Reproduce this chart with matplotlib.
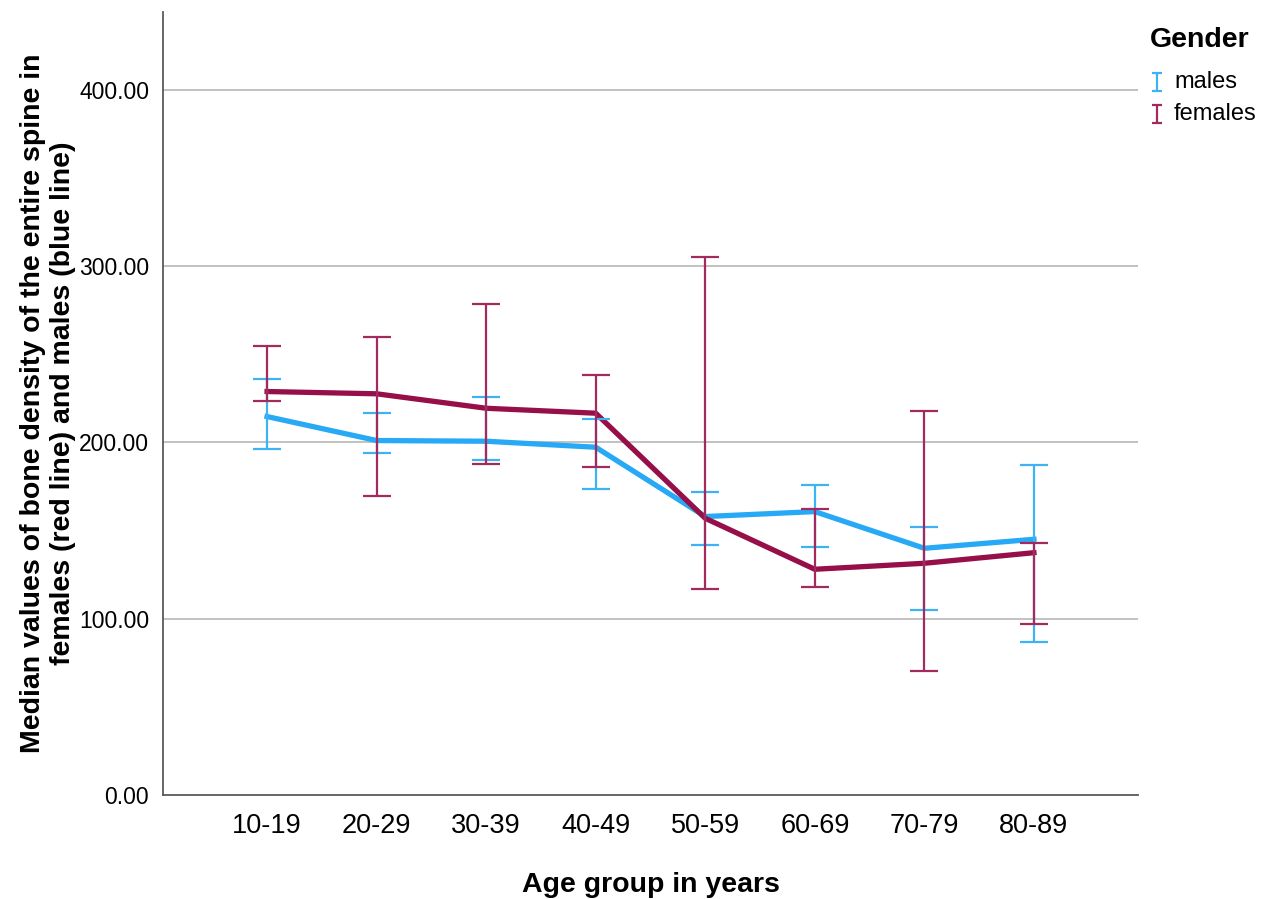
import matplotlib
matplotlib.use('Agg')
import matplotlib.pyplot as plt
from matplotlib.lines import Line2D
from matplotlib.path import Path
import numpy as np

age_groups = ["10-19", "20-29", "30-39", "40-49", "50-59", "60-69", "70-79", "80-89"]

# median and interval bounds per age group
males_med = [214.6, 201.0, 200.6, 197.2, 157.9, 160.7, 139.9, 145.0]
males_lo = [196.4, 193.8, 190.0, 173.4, 141.8, 140.8, 104.9, 87.0]
males_hi = [236.1, 216.7, 225.9, 213.3, 171.7, 175.8, 151.8, 187.2]

females_med = [228.8, 227.5, 219.3, 216.5, 156.9, 128.0, 131.4, 137.4]
females_lo = [223.5, 169.4, 187.6, 186.2, 116.8, 117.8, 70.3, 96.8]
females_hi = [254.7, 259.6, 278.5, 237.9, 305.3, 162.0, 217.8, 142.8]

c_male = "#27A9F5"
c_male_err = "#3DB3F3"
c_female = "#970F48"
c_female_err = "#A22A5D"

FONT = "Liberation Sans"
W, H = 1266, 899

fig = plt.figure(figsize=(W / 100, H / 100), dpi=100)
ax = fig.add_axes([163 / W, 1 - 795 / H, (1138 - 163) / W, (795 - 12) / H])

x = np.arange(len(age_groups))

for med, lo, hi, col, ecol in [(males_med, males_lo, males_hi, c_male, c_male_err),
                               (females_med, females_lo, females_hi, c_female, c_female_err)]:
    med = np.array(med)
    yerr = [med - np.array(lo), np.array(hi) - med]
    ax.plot(x, med, color=col, lw=3.8, zorder=3)
    ax.errorbar(x, med, yerr=yerr, fmt="none", ecolor=ecol, elinewidth=1.6,
                capsize=10, capthick=1.6, zorder=4)

ax.set_xlim(-0.95, 7.95)
ax.set_ylim(0, 444)
yt = [0, 100, 200, 300, 400]
ax.set_yticks(yt)
ax.set_yticklabels([f"{v:.2f}" for v in yt], fontsize=16.5, family=FONT)
ax.set_xticks(x)
ax.set_xticklabels(age_groups, fontsize=19.5, family=FONT)
ax.tick_params(axis="y", length=0, pad=10)
ax.tick_params(axis="x", length=0, pad=13)

for yv in [100, 200, 300, 400]:
    ax.axhline(yv, color="#BDBDBD", lw=1.3, zorder=1)

for s in ["top", "right"]:
    ax.spines[s].set_visible(False)
for s in ["left", "bottom"]:
    ax.spines[s].set_color("#5A5A5A")
    ax.spines[s].set_linewidth(1.3)

ax.set_xlabel("Age group in years", fontsize=20.5, fontweight="bold",
              family=FONT, labelpad=24)
ax.set_ylabel("Median values of bone density of the entire spine in\nfemales (red line) and males (blue line)",
              fontsize=20.5, fontweight="bold", family=FONT,
              linespacing=1.2, labelpad=2)

# legend drawn by hand: title, I-beam glyphs and labels
ibeam = Path([(-0.5, -1), (0.5, -1), (0, -1), (0, 1), (-0.5, 1), (0.5, 1)],
             [Path.MOVETO, Path.LINETO, Path.MOVETO, Path.LINETO, Path.MOVETO, Path.LINETO])
fig.text(1150 / W, 1 - 40 / H, "Gender", fontsize=20.5, fontweight="bold",
         family=FONT, va="center", ha="left")
for label, col, ypx in [("males", c_male_err, 82), ("females", c_female_err, 114)]:
    fig.add_artist(Line2D([1157 / W], [1 - ypx / H], transform=fig.transFigure,
                          linestyle="none", marker=ibeam, markersize=13,
                          markeredgewidth=1.6, color=col))
    fig.text(1174 / W, 1 - ypx / H, label, fontsize=17, family=FONT,
             va="center", ha="left")

plt.savefig("out.png", dpi=100)
